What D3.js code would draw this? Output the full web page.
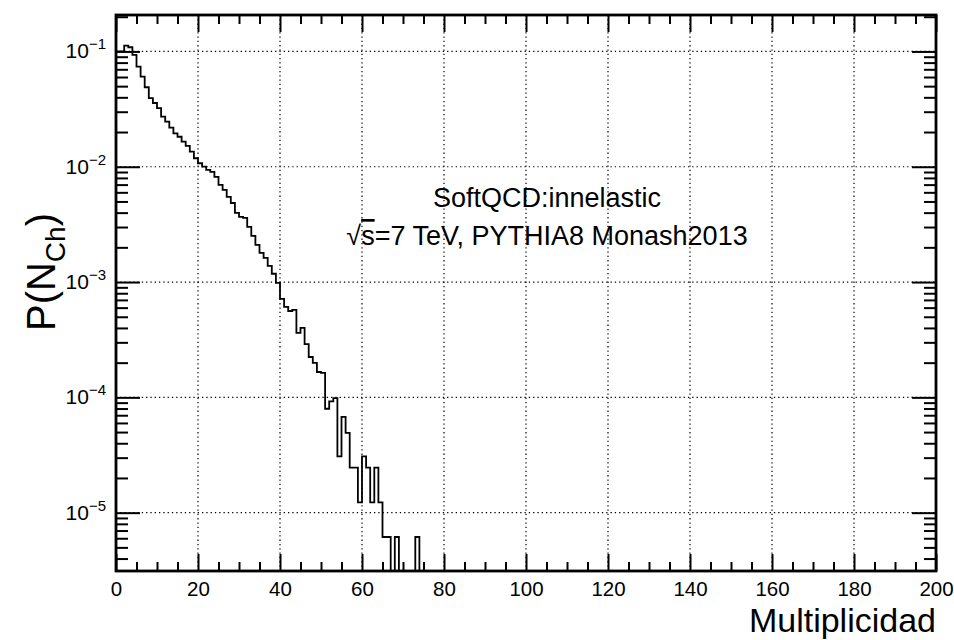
<!DOCTYPE html>
<html>
<head>
<meta charset="utf-8">
<script src="https://cdn.jsdelivr.net/npm/d3@7"></script>
<style>
html,body{margin:0;padding:0;background:#fff;}
svg{display:block;font-family:"Liberation Sans",Arial,Helvetica,sans-serif;}
</style>
</head>
<body>
<svg id="chart" width="954" height="640"></svg>
<script>
// ---- data ----
const binLow = 0, binHigh = 200, binWidth = 1;
// P(N_ch) per unit-width multiplicity bin, starting at N_ch = 0 (bins beyond are empty)
const pNch = [0.100,0.100,0.1123,0.1087,0.0932,0.0738,0.0605,0.0489,0.0393,0.0357,
  0.0322,0.0272,0.0246,0.0218,0.0195,0.0182,0.0165,0.0152,0.0135,0.01185,
  0.01072,0.01002,0.00938,0.00902,0.00816,0.00695,0.00629,0.00547,0.00485,0.00398,
  0.00367,0.00360,0.00301,0.00251,0.00210,0.00179,0.00162,0.00138,0.00118,0.000982,
  0.000714,0.000608,0.000561,0.000573,0.000362,0.000400,0.000290,0.000224,0.000199,0.000166,
  0.000163,7.97e-5,9.23e-5,9.84e-5,3.08e-5,6.77e-5,4.92e-5,2.46e-5,2.46e-5,1.23e-5,
  3.08e-5,2.46e-5,1.23e-5,2.46e-5,1.23e-5,6.15e-6,6.15e-6,0,6.15e-6,0,
  0,0,0,6.15e-6];
const xMajorTicks = [0,20,40,60,80,100,120,140,160,180,200];
const xTickLabels = ["0","20","40","60","80","100","120","140","160","180","200"];
const yDecades = [1e-5,1e-4,1e-3,1e-2,1e-1];
const yDecadeExps = ["\u22125","\u22124","\u22123","\u22122","\u22121"];
const yDomain = [3.12e-6, 0.207];
const textLines = ["SoftQCD:innelastic", "=7 TeV, PYTHIA8 Monash2013"];
const xTitle = "Multiplicidad";

// ---- layout ----
const L = 116, R = 936, T = 15, B = 571;
const svg = d3.select("#chart");
const x = d3.scaleLinear().domain([binLow, binHigh]).range([L, R]);
const y = d3.scaleLog().domain(yDomain).range([B, T]);

// minor ticks
const xMinor = d3.range(binLow, binHigh + 0.001, 5).filter(v => v % 20 !== 0);
const yMinor = [];
yDecades.concat([1e-6]).forEach(d => { for (let k = 2; k <= 9; k++) { const v = d * k; if (v >= yDomain[0] && v <= yDomain[1]) yMinor.push(v); } });

// clip
svg.append("defs").append("clipPath").attr("id","clip")
  .append("rect").attr("x",L).attr("y",T).attr("width",R-L).attr("height",B-T);

// grid
const grid = svg.append("g").attr("stroke","#000").attr("stroke-width",1.2).attr("stroke-dasharray","1.3,3");
grid.selectAll("line.gx").data(xMajorTicks.filter(v => v > binLow && v < binHigh)).join("line")
  .attr("x1", d => x(d)).attr("x2", d => x(d)).attr("y1", T).attr("y2", B);
grid.selectAll("line.gy").data(yDecades).join("line")
  .attr("y1", d => y(d)).attr("y2", d => y(d)).attr("x1", L).attr("x2", R);

// histogram
const pts = [];
const yOf = v => v > 0 ? y(v) : B + 3;
pNch.forEach((v, i) => {
  const x0 = binLow + i * binWidth, x1 = x0 + binWidth;
  if (i === 0) pts.push([x(x0), yOf(v)]);
  pts.push([x(x1), yOf(v)]);
  const nxt = i + 1 < pNch.length ? pNch[i + 1] : 0;
  pts.push([x(x1), yOf(nxt)]);
});
pts.push([x(binHigh), B + 3]);
svg.append("path").attr("clip-path","url(#clip)")
  .attr("d", d3.line()(pts)).attr("fill","none").attr("stroke","#000").attr("stroke-width",1.8)
  .attr("stroke-linejoin","miter");

// axes (ticks inward)
function styleAxis(g){ g.select(".domain").remove(); g.selectAll("line").attr("stroke","#000").attr("stroke-width",2); }
svg.append("g").attr("transform",`translate(0,${B})`)
  .call(d3.axisBottom(x).tickValues(xMajorTicks).tickSize(-17).tickPadding(10).tickFormat((d,i)=>xTickLabels[i]))
  .call(styleAxis)
  .call(g => g.selectAll("text").attr("font-size",20.5).attr("fill","#000").attr("font-family","Liberation Sans, Arial, sans-serif"));
svg.append("g").attr("transform",`translate(0,${B})`)
  .call(d3.axisBottom(x).tickValues(xMinor).tickSize(-9).tickFormat("")).call(styleAxis);
svg.append("g").attr("transform",`translate(0,${T})`)
  .call(d3.axisTop(x).tickValues(xMajorTicks).tickSize(-17).tickFormat("")).call(styleAxis);
svg.append("g").attr("transform",`translate(0,${T})`)
  .call(d3.axisTop(x).tickValues(xMinor).tickSize(-9).tickFormat("")).call(styleAxis);
svg.append("g").attr("transform",`translate(${L},0)`)
  .call(d3.axisLeft(y).tickValues(yDecades).tickSize(-24).tickFormat("")).call(styleAxis);
svg.append("g").attr("transform",`translate(${L},0)`)
  .call(d3.axisLeft(y).tickValues(yMinor).tickSize(-12).tickFormat("")).call(styleAxis);
svg.append("g").attr("transform",`translate(${R},0)`)
  .call(d3.axisRight(y).tickValues(yDecades).tickSize(-24).tickFormat("")).call(styleAxis);
svg.append("g").attr("transform",`translate(${R},0)`)
  .call(d3.axisRight(y).tickValues(yMinor).tickSize(-12).tickFormat("")).call(styleAxis);

// y tick labels 10^n
const yl = svg.append("g").attr("font-size",21).attr("fill","#000");
yDecades.forEach((d, i) => {
  const t = yl.append("text").attr("x", 106).attr("y", y(d) + 7).attr("text-anchor","end");
  t.append("tspan").text("10");
  t.append("tspan").attr("font-size",15).attr("dy",-9).text(yDecadeExps[i]);
});

// frame
svg.append("rect").attr("x",L).attr("y",T).attr("width",R-L).attr("height",B-T)
  .attr("fill","none").attr("stroke","#000").attr("stroke-width",2.8);

// annotation
const cx = 547;
svg.append("text").attr("x",cx).attr("y",207).attr("text-anchor","middle").attr("font-size",27).text(textLines[0]);
const l2 = svg.append("text").attr("x",cx).attr("y",245).attr("text-anchor","middle").attr("font-size",27);
l2.append("tspan").text("\u221A");
l2.append("tspan").attr("text-decoration","overline").text("s");
l2.append("tspan").text(textLines[1]);

// axis titles
svg.append("text").attr("x",R).attr("y",632).attr("text-anchor","end").attr("font-size",34).text(xTitle);
const yt = svg.append("text").attr("transform","translate(55,272) rotate(-90)").attr("text-anchor","middle").attr("font-size",40);
yt.append("tspan").text("P(N");
yt.append("tspan").attr("font-size",28).attr("dy",10).text("Ch");
yt.append("tspan").attr("dy",-10).text(")");
</script>
</body>
</html>
